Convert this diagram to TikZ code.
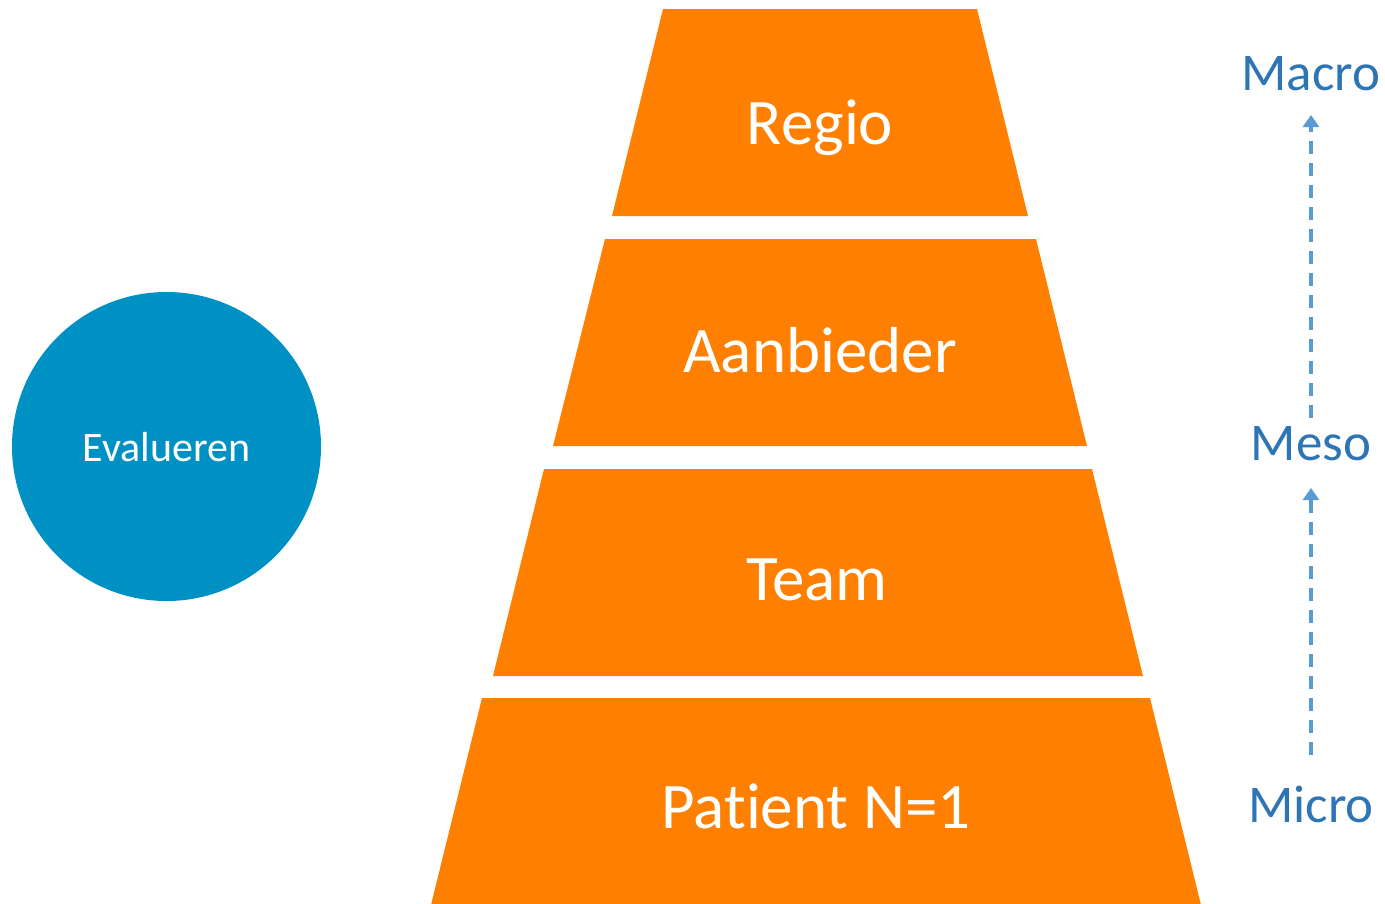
\documentclass[tikz,border=0pt]{standalone}
\usepackage{fontspec}
\setmainfont{Carlito}[RawFeature=-liga]
\usetikzlibrary{arrows.meta}
\definecolor{lvlorange}{RGB}{255,127,0}
\definecolor{circblue}{RGB}{0,145,196}
\definecolor{lbltext}{RGB}{46,117,182}
\definecolor{arrblue}{RGB}{91,155,213}
\begin{document}
\begin{tikzpicture}[x=1pt,y=-1pt,
  level/.style={fill=lvlorange,draw=none},
  lvltext/.style={text=white,font=\fontsize{65}{70}\selectfont,anchor=base,inner sep=0pt},
  sidelabel/.style={text=lbltext,font=\fontsize{53}{58}\selectfont,anchor=base,inner sep=0pt},
  uparrow/.style={draw=arrblue,line width=3.5pt,dash pattern=on 13pt off 9pt,-{Triangle[width=16pt,length=12pt]}}
]
\useasboundingbox (0,0) rectangle (1385,903);
% levels
\fill[level] (663,9) -- (977,9) -- (1028,216) -- (612,216) -- cycle;
\fill[level] (605,239) -- (1036,239) -- (1087,446) -- (553,446) -- cycle;
\fill[level] (544,469) -- (1092,469) -- (1143,676) -- (493,676) -- cycle;
\fill[level] (482,698) -- (1150,698) -- (1201,905) -- (431,905) -- cycle;
\node[lvltext] (regio) at (820,144) {Regio};
\node[lvltext] (aanbieder) at (820,372) {Aanbieder};
\node[lvltext] (team) at (817,600) {Team};
\node[lvltext] (patient) at (816,828) {Patient N=1};
% circle
\node[circle,fill=circblue,minimum size=309pt,inner sep=0pt] (evalc) at (166.5,446.5) {};
\node[text=white,font=\fontsize{42}{46}\selectfont,anchor=base,inner sep=0pt] (eval) at (166.5,461) {Evalueren};
% side labels
\node[sidelabel] (macro) at (1311,90) {Macro};
\node[sidelabel] (meso) at (1311,460) {Meso};
\node[sidelabel] (micro) at (1311,822) {Micro};
\coordinate (mesotop) at (1311,418);
\coordinate (macrobot) at (1311,115);
\coordinate (microtop) at (1311,755);
\coordinate (mesobot) at (1311,488);
\draw[uparrow] (mesotop) -- (macrobot);
\draw[uparrow] (microtop) -- (mesobot);
\end{tikzpicture}
\end{document}
